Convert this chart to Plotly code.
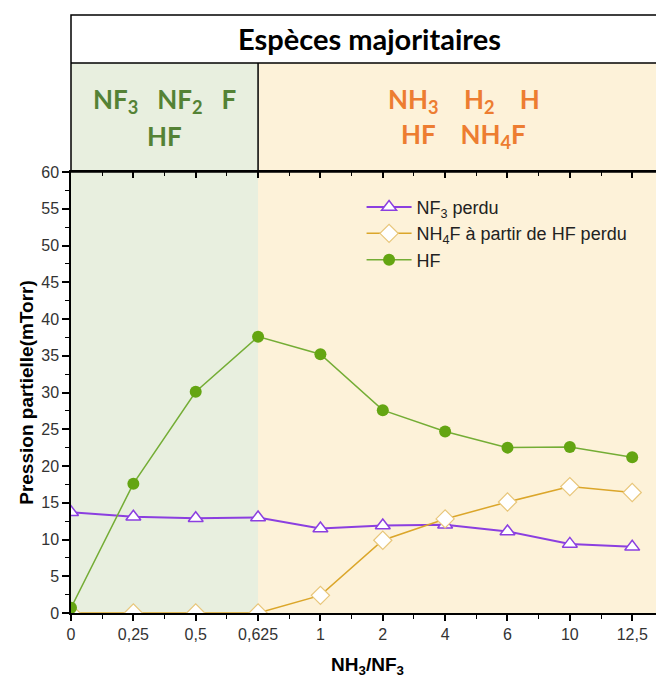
import plotly.graph_objects as go

# rapport NH3/NF3 (axe x en categories equidistantes)
ratios = ["0", "0,25", "0,5", "0,625", "1", "2", "4", "6", "10", "12,5"]
nf3_perdu = [13.7, 13.1, 12.9, 13.0, 11.5, 11.9, 12.0, 11.1, 9.4, 9.0]
nh4f_hf_perdu = [0, 0, 0, 0, 2.4, 9.9, 12.8, 15.1, 17.2, 16.4]
hf = [0.7, 17.6, 30.1, 37.6, 35.2, 27.6, 24.7, 22.5, 22.6, 21.2]

idx = list(range(len(ratios)))

vert_clair = "#e8efdf"
creme = "#fdf2d9"

fig = go.Figure()

fig.add_trace(go.Scatter(
    x=idx, y=nf3_perdu, mode="lines+markers", name="NF<sub>3</sub> perdu",
    line=dict(color="#8b3fe0", width=2),
    marker=dict(symbol="triangle-up", size=13, color="white",
                line=dict(color="#8b3fe0", width=1.5))))
fig.add_trace(go.Scatter(
    x=idx, y=nh4f_hf_perdu, mode="lines+markers",
    name="NH<sub>4</sub>F à partir de HF perdu",
    line=dict(color="#dba62a", width=1.5),
    marker=dict(symbol="diamond", size=14, color="white",
                line=dict(color="#e8c67a", width=1.2))))
fig.add_trace(go.Scatter(
    x=idx, y=hf, mode="lines+markers", name="HF",
    line=dict(color="#74ad35", width=1.5),
    marker=dict(symbol="circle", size=12, color="#64a512")))
# trace vide pour faire apparaitre l'axe du haut
fig.add_trace(go.Scatter(x=idx, y=[None] * len(idx), xaxis="x2", mode="lines",
                         showlegend=False, hoverinfo="skip"))

# fonds des zones
fig.add_shape(type="rect", xref="x", yref="paper", x0=0, x1=3, y0=0, y1=1.247,
              fillcolor=vert_clair, line_width=0, layer="below")
fig.add_shape(type="rect", xref="x", yref="paper", x0=3, x1=9.6, y0=0, y1=1.247,
              fillcolor=creme, line_width=0, layer="below")

# cadre de l'en-tete
fig.add_shape(type="rect", xref="paper", yref="paper", x0=0, x1=1.03, y0=1.0, y1=1.356,
              line=dict(color="black", width=1.5), fillcolor="rgba(0,0,0,0)")
fig.add_shape(type="line", xref="paper", yref="paper", x0=0, x1=1.03, y0=1.247, y1=1.247,
              line=dict(color="black", width=1.5))
fig.add_shape(type="line", xref="x", yref="paper", x0=3, x1=3, y0=1.0, y1=1.247,
              line=dict(color="black", width=1.5))

fig.add_annotation(text="<b>Espèces majoritaires</b>", xref="paper", yref="paper",
                   x=0.503, y=1.303, yanchor="middle", showarrow=False,
                   font=dict(family="Lato", size=29, color="black"))

vert = "#548235"
orange = "#ed7d31"
fig.add_annotation(text="<b>NF<sub>3</sub>   NF<sub>2</sub>   F</b>", xref="x", yref="paper",
                   x=1.5, y=1.163, yanchor="middle", showarrow=False,
                   font=dict(family="Lato", size=26, color=vert))
fig.add_annotation(text="<b>HF</b>", xref="x", yref="paper",
                   x=1.5, y=1.082, yanchor="middle", showarrow=False,
                   font=dict(family="Lato", size=26, color=vert))
fig.add_annotation(text="<b>NH<sub>3</sub>    H<sub>2</sub>    H</b>", xref="x", yref="paper",
                   x=6.3, y=1.163, yanchor="middle", showarrow=False,
                   font=dict(family="Lato", size=26, color=orange))
fig.add_annotation(text="<b>HF    NH<sub>4</sub>F</b>", xref="x", yref="paper",
                   x=6.3, y=1.082, yanchor="middle", showarrow=False,
                   font=dict(family="Lato", size=26, color=orange))

fig.update_layout(
    xaxis=dict(
        range=[0, 9.51], tickmode="array", tickvals=idx, ticktext=ratios,
        automargin=False,
        showline=True, linecolor="black", linewidth=1.5, mirror=True,
        ticks="outside", ticklen=6, tickcolor="black", tickwidth=1.5,
        minor=dict(tickmode="linear", tick0=0.5, dtick=1, ticks="outside", ticklen=4,
                   tickcolor="black", tickwidth=1.2),
        showgrid=False, zeroline=False,
        tickfont=dict(family="Liberation Sans", size=16, color="#333"),
        title=dict(text="<b>NH<sub>3</sub>/NF<sub>3</sub></b>", standoff=16,
                   font=dict(family="Liberation Sans", size=19, color="black"))),
    # graduations du haut, tournees vers l'interieur
    xaxis2=dict(overlaying="x", side="top", range=[0, 9.51], tickmode="array",
                tickvals=idx, showticklabels=False, ticks="inside", ticklen=6,
                tickcolor="black", tickwidth=1.5, showgrid=False, zeroline=False,
                showline=False, automargin=False,
                minor=dict(tickmode="linear", tick0=0.5, dtick=1, ticks="inside",
                           ticklen=4, tickcolor="black", tickwidth=1.2)),
    yaxis=dict(
        range=[0, 60], dtick=5, showline=True, linecolor="black", linewidth=1.5,
        automargin=False,
        ticks="outside", ticklen=7, tickcolor="black", tickwidth=1.5,
        minor=dict(dtick=2.5, ticks="outside", ticklen=4, tickcolor="black", tickwidth=1.2),
        showgrid=False, zeroline=False,
        tickfont=dict(family="Liberation Sans", size=16, color="#333"),
        title=dict(text="<b>Pression partielle(mTorr)</b>", standoff=3,
                   font=dict(family="Liberation Sans", size=19, color="black"))),
)

# la page ajoute 8 px de marge autour du graphique
fig.update_layout(
    width=656, height=671,
    margin=dict(l=63, r=0, t=164, b=66, autoexpand=False),
    paper_bgcolor="white", plot_bgcolor=creme,
    showlegend=True,
    legend=dict(x=0.49, y=0.962, xanchor="left", yanchor="top",
                bgcolor="rgba(0,0,0,0)", itemwidth=45, tracegroupgap=0,
                font=dict(family="Liberation Sans", size=18, color="#222")),
)

fig.write_html("out.html")
